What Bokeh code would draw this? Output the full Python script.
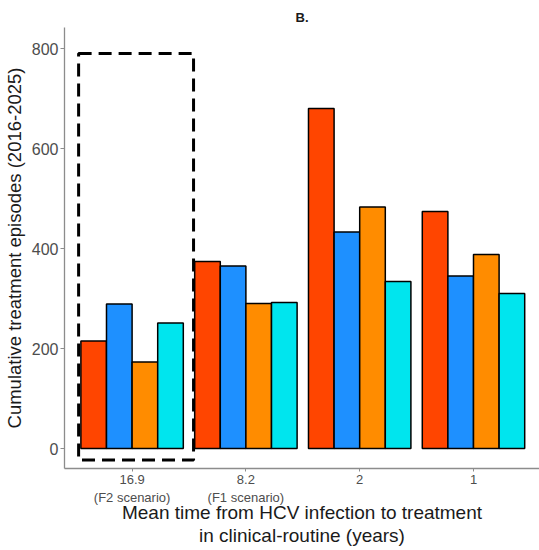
import numpy as np
from bokeh.plotting import figure
from bokeh.models import ColumnDataSource, Range1d, FixedTicker
from bokeh.transform import dodge
from bokeh.embed import file_html
from bokeh.resources import INLINE

# ---- data ----
group_labels = ["16.9\n(F2 scenario)", "8.2\n(F1 scenario)", "2", "1"]
series_a = [215, 374, 680, 474]   # red
series_b = [289, 365, 433, 345]   # blue
series_c = [173, 290, 483, 388]   # orange
series_d = [251, 292, 334, 310]   # cyan
y_ticks = [0, 200, 400, 600, 800]
# highlighted (dashed) region around the first group, in data units
box_left, box_right, box_bottom, box_top = [0.53], [1.54], [-23], [790]

colors = ["#FF4500", "#1E90FF", "#FF8C00", "#00E5EE"]
names = ["a", "b", "c", "d"]

xpos = list(np.arange(1, len(group_labels) + 1))
src = ColumnDataSource(dict(x=xpos, a=series_a, b=series_b, c=series_c, d=series_d))

p = figure(width=539, height=549, output_backend="svg", toolbar_location=None,
           x_range=Range1d(0.406, 4.58), y_range=Range1d(-40, 842),
           min_border_left=61, min_border_right=0, min_border_top=27, min_border_bottom=72)

bw = 0.225
offsets = [-1.5 * bw, -0.5 * bw, 0.5 * bw, 1.5 * bw]
for nm, col, off in zip(names, colors, offsets):
    p.vbar(x=dodge("x", off), top=nm, bottom=0, width=bw, source=src,
           fill_color=col, line_color="black", line_width=1.5)

p.quad(left=box_left, right=box_right, bottom=box_bottom, top=box_top,
       fill_color=None, line_color="black", line_width=3, line_dash="13 7")

p.title.text = "B."
p.title.align = "center"
p.title.text_font = "Liberation Sans"
p.title.text_font_size = "13px"
p.title.text_font_style = "bold"
p.title.text_color = "#1A1A1A"
p.title.standoff = 6

p.xgrid.visible = False
p.ygrid.visible = False
p.outline_line_color = None

p.xaxis.ticker = FixedTicker(ticks=xpos)
p.xaxis.major_label_overrides = {int(x): lab for x, lab in zip(xpos, group_labels)}
p.yaxis.ticker = FixedTicker(ticks=y_ticks)

for ax in (p.xaxis[0], p.yaxis[0]):
    ax.axis_line_color = "#8C8C8C"
    ax.axis_line_width = 1.3
    ax.major_tick_line_color = "#8C8C8C"
    ax.major_tick_out = 4
    ax.major_tick_in = 0
    ax.minor_tick_out = 0
    ax.minor_tick_in = 0
    ax.major_label_text_font = "Liberation Sans"
    ax.major_label_text_color = "#4D4D4D"
    ax.axis_label_text_font = "Liberation Sans"
    ax.axis_label_text_font_style = "normal"
    ax.axis_label_text_color = "#1A1A1A"

p.yaxis.major_label_text_font_size = "16px"
p.yaxis.major_label_standoff = 2
p.yaxis.axis_label_standoff = 4
p.yaxis.axis_label_text_font_size = "18.5px"
p.yaxis.axis_label = "Cumulative treatment episodes (2016-2025)"

p.xaxis.major_tick_out = 3
p.xaxis.major_label_text_font_size = "13px"
p.xaxis.major_label_text_line_height = 1.25
p.xaxis.major_label_standoff = 0
p.xaxis.axis_label_standoff = -6
p.xaxis.axis_label_text_font_size = "19px"
p.xaxis.axis_label_text_line_height = 1.1
p.xaxis.axis_label = "Mean time from HCV infection to treatment\nin clinical-routine (years)"

open("out.html", "w").write(file_html(p, INLINE))
